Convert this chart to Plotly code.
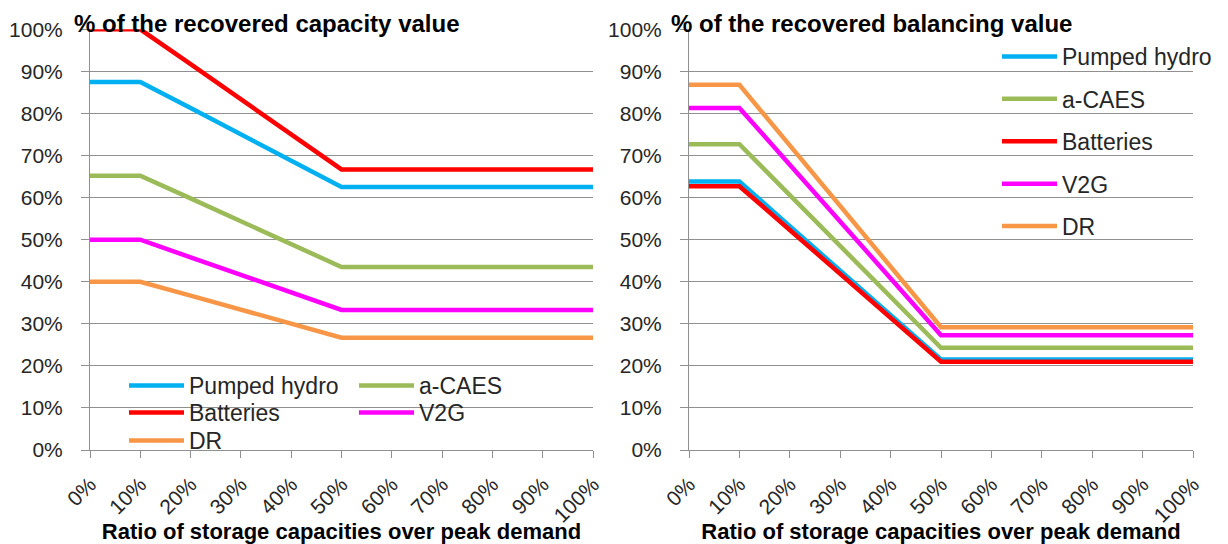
import plotly.graph_objects as go

# ---------------- data ----------------
ratio = [0, 10, 20, 30, 40, 50, 60, 70, 80, 90, 100]
ratio_labels = ["0%", "10%", "20%", "30%", "40%", "50%", "60%", "70%", "80%", "90%", "100%"]
series_names = ["Pumped hydro", "a-CAES", "Batteries", "V2G", "DR"]
series_colors = ["#00B0F0", "#9BBB59", "#FF0000", "#FF00FF", "#F79646"]

cap_pumped = [87.5, 87.5, 81.3, 75.0, 68.8, 62.5, 62.5, 62.5, 62.5, 62.5, 62.5]
cap_caes = [65.2, 65.2, 59.8, 54.4, 49.0, 43.5, 43.5, 43.5, 43.5, 43.5, 43.5]
cap_batt = [100.0, 100.0, 91.7, 83.3, 75.0, 66.7, 66.7, 66.7, 66.7, 66.7, 66.7]
cap_v2g = [50.0, 50.0, 45.8, 41.7, 37.5, 33.3, 33.3, 33.3, 33.3, 33.3, 33.3]
cap_dr = [40.0, 40.0, 36.7, 33.3, 30.0, 26.7, 26.7, 26.7, 26.7, 26.7, 26.7]

bal_pumped = [63.8, 63.8, 53.2, 42.7, 32.1, 21.5, 21.5, 21.5, 21.5, 21.5, 21.5]
bal_caes = [72.7, 72.7, 60.6, 48.5, 36.4, 24.3, 24.3, 24.3, 24.3, 24.3, 24.3]
bal_batt = [62.7, 62.7, 52.3, 41.9, 31.4, 21.0, 21.0, 21.0, 21.0, 21.0, 21.0]
bal_v2g = [81.3, 81.3, 67.8, 54.3, 40.8, 27.3, 27.3, 27.3, 27.3, 27.3, 27.3]
bal_dr = [86.8, 86.8, 72.4, 58.0, 43.6, 29.2, 29.2, 29.2, 29.2, 29.2, 29.2]

y_ticks = [0, 10, 20, 30, 40, 50, 60, 70, 80, 90, 100]
y_labels = ["0%", "10%", "20%", "30%", "40%", "50%", "60%", "70%", "80%", "90%", "100%"]

title_left = "% of the recovered capacity value"
title_right = "% of the recovered balancing value"
x_title = "Ratio of storage capacities over peak demand"

cap_series = [cap_pumped, cap_caes, cap_batt, cap_v2g, cap_dr]
bal_series = [bal_pumped, bal_caes, bal_batt, bal_v2g, bal_dr]

# ---------------- figure ----------------
PAGE_W, PAGE_H = 1228, 544
OFF = 8  # default page body margin
W, H = PAGE_W - OFF, PAGE_H - OFF
FONT = "Liberation Sans, Arial, sans-serif"
GRID = "#909090"
TXT = "#262626"


def px_x(p):
    """page x pixel -> paper fraction"""
    return (p - OFF) / W


def px_y(p):
    """page y pixel -> paper fraction"""
    return 1 - (p - OFF) / H


fig = go.Figure()

# left chart: each legend entry in its own small legend for exact placement
left_legend_ids = ["legend", "legend2", "legend3", "legend4", "legend5"]
for i, name in enumerate(series_names):
    fig.add_trace(go.Scatter(
        x=ratio, y=cap_series[i], mode="lines", name=name,
        line=dict(color=series_colors[i], width=4.5),
        xaxis="x", yaxis="y", legend=left_legend_ids[i], hoverinfo="x+y+name",
    ))
for i, name in enumerate(series_names):
    fig.add_trace(go.Scatter(
        x=ratio, y=bal_series[i], mode="lines", name=name,
        line=dict(color=series_colors[i], width=4.5),
        xaxis="x2", yaxis="y2", legend="legend6", legendgroup="r%d" % i,
        hoverinfo="x+y+name",
    ))

ydom = [px_y(450), px_y(29.3)]

xaxis_common = dict(
    range=[0, 100], tickvals=ratio, ticktext=ratio_labels, tickangle=-45,
    showgrid=False, showline=True, linecolor=GRID, linewidth=1,
    ticks="outside", ticklen=7, tickcolor=GRID, tickwidth=1,
    tickfont=dict(family=FONT, size=21, color=TXT),
    ticklabelstandoff=6,
    zeroline=False, fixedrange=True,
    title=dict(text="<b>" + x_title + "</b>", font=dict(family=FONT, size=22, color="#000000"), standoff=4),
)
yaxis_common = dict(
    range=[0, 100], tickvals=y_ticks, ticktext=y_labels,
    showgrid=True, gridcolor=GRID, gridwidth=1,
    showline=True, linecolor=GRID, linewidth=1,
    ticks="outside", ticklen=8, tickcolor=GRID, tickwidth=1,
    tickfont=dict(family=FONT, size=21, color=TXT),
    ticklabelstandoff=14,
    zeroline=False, fixedrange=True,
)


def legend_at(line_x, center_y, gap=0):
    return dict(
        x=px_x(line_x - 6), y=px_y(center_y - 22), xanchor="left", yanchor="top",
        bgcolor="rgba(0,0,0,0)", font=dict(family=FONT, size=23, color=TXT),
        itemwidth=55, tracegroupgap=gap, orientation="v",
    )


fig.update_layout(
    width=W, height=H,
    margin=dict(l=0, r=0, t=0, b=0, autoexpand=False),
    paper_bgcolor="white", plot_bgcolor="white",
    font=dict(family=FONT, color=TXT),
    xaxis=dict(domain=[px_x(90), px_x(593)], anchor="y", **xaxis_common),
    yaxis=dict(domain=ydom, anchor="x", **yaxis_common),
    xaxis2=dict(domain=[px_x(689), px_x(1193)], anchor="y2", **xaxis_common),
    yaxis2=dict(domain=ydom, anchor="x2", **yaxis_common),
    legend=legend_at(130, 386),
    legend2=legend_at(360, 386),
    legend3=legend_at(130, 413),
    legend4=legend_at(360, 413),
    legend5=legend_at(130, 441),
    legend6=legend_at(1003, 57, gap=9.5),
    annotations=[
        dict(text="<b>" + title_left + "</b>", x=px_x(72), y=px_y(OFF), xref="paper", yref="paper",
             xanchor="left", yanchor="top", showarrow=False,
             font=dict(family=FONT, size=24, color="#000000")),
        dict(text="<b>" + title_right + "</b>", x=px_x(669), y=px_y(OFF), xref="paper", yref="paper",
             xanchor="left", yanchor="top", showarrow=False,
             font=dict(family=FONT, size=24, color="#000000")),
    ],
    showlegend=True,
)

fig.write_html("out.html")
